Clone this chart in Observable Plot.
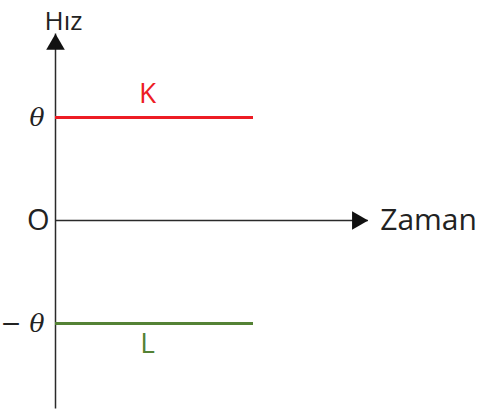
<!DOCTYPE html>
<html><head><meta charset="utf-8">
<script src="https://cdn.jsdelivr.net/npm/d3@7"></script>
<script src="https://cdn.jsdelivr.net/npm/@observablehq/plot@0.6"></script>
<style>html,body{margin:0;padding:0;background:#fff;} svg{display:block;}</style>
</head><body>
<div id="chart"></div>
<script>
// Series (constant speeds over time)
const seriesNames = ["K", "L"];
const seriesSpeeds = [1, -1];          // θ and −θ
const seriesStart = [0, 0];
const seriesEnd = [10, 10];
const seriesColors = ["#ed1c24", "#548235"];
const seriesLabelT = [4.65, 4.65];
const seriesLabelV = [1.23, -1.2];

// Axis extents
const timeAxisEnd = [15.8];
const speedAxisRange = [-1.83, 1.81];
const arrowTime = [15.25];
const arrowSpeed = [1.71];

// Tick labels
const thetaTicks = [1, -1];
const thetaLabels = ["θ", "− θ"];
const zeroTick = [0];
const zeroLabel = ["O"];
const xTitle = "Zaman";
const yTitle = "Hız";

const segs = seriesNames.map((n, i) => ({name: n, v: seriesSpeeds[i], t1: seriesStart[i], t2: seriesEnd[i], color: seriesColors[i], lt: seriesLabelT[i], lv: seriesLabelV[i]}));
const sans = "'Open Sans', sans-serif";
const axisColor = "#2a2a2a";

const chart = Plot.plot({
  width: 477,
  height: 412,
  margin: 0,
  x: {type: "linear", domain: [0, 10], range: [55, 253], axis: null},
  y: {type: "linear", domain: [-1, 1], range: [323, 117], axis: null},
  marks: [
    // vertical axis
    Plot.ruleX([0], {y1: speedAxisRange[0], y2: speedAxisRange[1], stroke: axisColor, strokeWidth: 1.5}),
    // horizontal axis
    Plot.ruleY([0], {x1: 0, x2: timeAxisEnd[0], stroke: axisColor, strokeWidth: 1.5}),
    // arrowheads
    Plot.dot(arrowSpeed, {x: 0, y: d => d, symbol: "triangle", r: 6.9, fill: "#111", stroke: null}),
    Plot.dot(arrowTime, {x: d => d, y: 0, symbol: "triangle", r: 6.9, rotate: 90, fill: "#111", stroke: null}),
    // series lines
    Plot.ruleY(segs, {y: "v", x1: "t1", x2: "t2", stroke: "color", strokeWidth: 3}),
    Plot.text(segs, {x: "lt", y: "lv", text: "name", fill: "color", fontSize: 28, fontFamily: sans}),
    // tick labels
    Plot.text(thetaTicks, {x: -0.55, y: d => d, text: (d, i) => thetaLabels[i], textAnchor: "end", fontSize: 25, fontFamily: "'DejaVu Serif', serif", fontStyle: "italic", fill: "#222"}),
    Plot.text(zeroTick, {x: -0.3, y: d => d, text: (d, i) => zeroLabel[i], textAnchor: "end", fontSize: 29, fontFamily: sans, fill: "#222"}),
    // axis titles
    Plot.text([yTitle], {x: 0.4, y: 1.93, text: d => d, fontSize: 26, fontFamily: sans, fill: "#222"}),
    Plot.text([xTitle], {x: 16.4, y: 0, text: d => d, textAnchor: "start", fontSize: 30, fontFamily: sans, fill: "#222"})
  ]
});
document.getElementById("chart").append(chart);
</script>
</body></html>
